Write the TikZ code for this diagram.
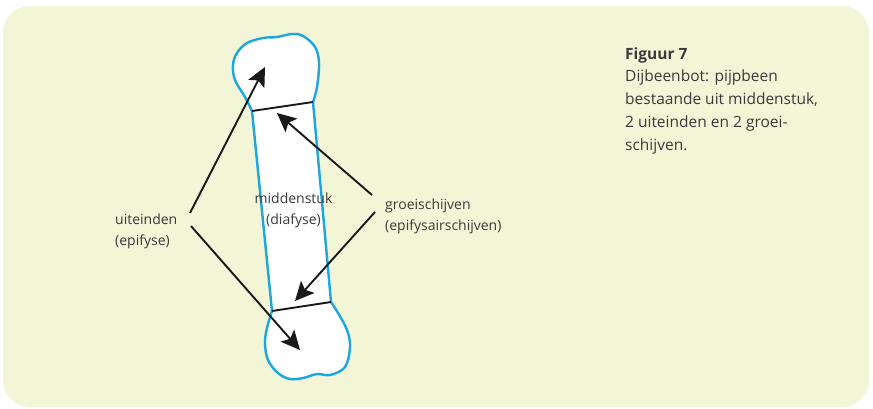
\documentclass[tikz,border=0pt]{standalone}
\usepackage{fontspec}
\setmainfont{Open Sans}
\usetikzlibrary{arrows.meta}
\definecolor{bgcol}{HTML}{F2F5D6}
\definecolor{bonecol}{HTML}{1AA7DF}
\definecolor{txtcol}{HTML}{3A3A3A}
\tikzset{
  lbl/.style={inner sep=0pt, text=txtcol, font=\fontsize{14}{21}\selectfont},
  captxt/.style={inner sep=0pt, text=txtcol, font=\fontsize{15.5}{22.75}\selectfont},
  pointer/.style={draw=black!90, line width=1.9pt, -{Stealth[length=19pt,width=18pt,inset=4pt]}},
  plate/.style={draw=black!90, line width=1.9pt},
  bone/.style={draw=bonecol, line width=2.4pt, fill=white, line join=round}
}
\begin{document}
\begin{tikzpicture}[x=1pt,y=-1pt]
\useasboundingbox (0,0) rectangle (873,408);
\fill[bgcol, rounded corners=27pt] (3,6) rectangle (869,407);
% bone
\draw[bone] (252,111) -- (272,311)
  -- plot[smooth, tension=0.6] coordinates {(272,311) (267,328) (265,343) (268,360) (278,373) (290,379) (303,378) (317,374) (330,375) (345,367) (350,347) (347,330) (338,313) (331,302)}
  -- (313,102)
  -- plot[smooth, tension=0.6] coordinates {(313,102) (317,87) (319,63) (315,47) (303,36) (292,34) (277,37) (263,38) (247,43) (237,53) (233,65) (235,80) (245,97) (252,111)}
  -- cycle;
% growth plates
\coordinate (p1l) at (252,111);
\coordinate (p1r) at (313,102);
\coordinate (p2l) at (272,311);
\coordinate (p2r) at (331,302);
\draw[plate] (p1l) -- (p1r);
\draw[plate] (p2l) -- (p2r);
% labels (anchor = baseline of last line)
\node[lbl, anchor=base west, align=left] (uit) at (115,245) {uiteinden\\(epifyse)};
\node[lbl, anchor=base, align=center] (mid) at (293.5,224) {middenstuk\\(diafyse)};
\node[lbl, anchor=base west, align=left] (gro) at (385,230) {groeischijven\\(epifysairschijven)};
\node[captxt, anchor=base west, align=left] (caption) at (625,150) {\textbf{Figuur 7}\\Dijbeenbot: pijpbeen\\bestaande uit middenstuk,\\2 uiteinden en 2 groei-\\schijven.};
% arrow endpoints
\coordinate (u1s) at (190,213);
\coordinate (u1t) at (265,67);
\coordinate (u2s) at (191,226);
\coordinate (u2t) at (300,350);
\coordinate (g1s) at (372,195);
\coordinate (g1t) at (277,113);
\coordinate (g2s) at (375,212);
\coordinate (g2t) at (295,301);
\draw[pointer] (u1s) -- (u1t);
\draw[pointer] (u2s) -- (u2t);
\draw[pointer] (g1s) -- (g1t);
\draw[pointer] (g2s) -- (g2t);
\end{tikzpicture}
\end{document}
